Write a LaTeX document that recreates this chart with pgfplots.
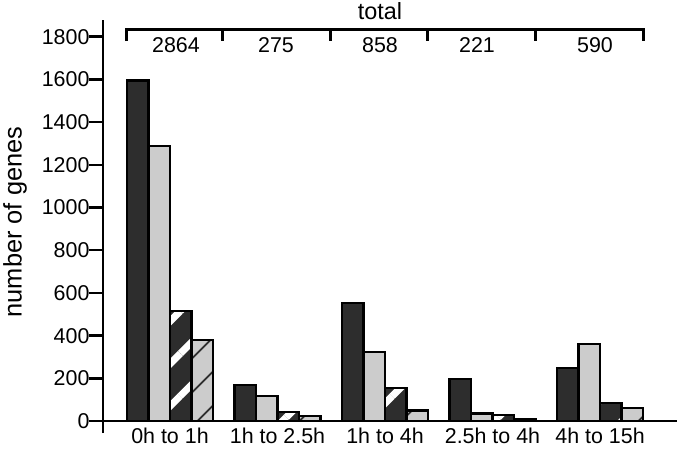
\documentclass[border=0pt]{standalone}
\usepackage{pgfplots}
\pgfplotsset{compat=1.18}
\usepackage{fontspec}
\setmainfont{Liberation Sans}
\usetikzlibrary{patterns.meta}
\definecolor{darkbar}{RGB}{45,45,45}
\definecolor{lightbar}{RGB}{204,204,204}
\begin{document}
\begin{tikzpicture}
\useasboundingbox (0,0) rectangle (680bp,-449bp);
\begin{axis}[
  at={(103bp,-433bp)}, anchor=south west,
  scale only axis, width=574bp, height=413bp,
  xmin=-0.623, xmax=4.716, ymin=-56, ymax=1878,
  axis x line*=middle, axis y line*=left,
  axis line style={line width=2.5bp, black},
  xtick={0,1,2,3,4},
  xticklabels={0h to 1h,1h to 2.5h,1h to 4h,2.5h to 4h,4h to 15h},
  x tick style={draw=none},
  ytick={0,200,...,1800},
  y tick style={line width=2.5bp, black},
  tick align=outside, major tick length=14bp,
  tick label style={font=\fontsize{21.5}{25}\selectfont},
  xticklabel style={yshift=11bp},
  yticklabel style={xshift=4bp},
  /pgf/number format/assume math mode=true,
  /pgf/number format/set thousands separator={},
  clip=false,
]
\addplot[ybar, bar width=0.2, bar shift=-0.3, fill=darkbar, draw=black, line width=2.2bp]
  coordinates {(0,1595) (1,168) (2,553) (3,197) (4,248)};
\addplot[ybar, bar width=0.2, bar shift=-0.1, fill=lightbar, draw=black, line width=2.2bp]
  coordinates {(0,1288) (1,119) (2,322) (3,35) (4,359)};
\addplot[ybar, bar width=0.2, bar shift=0.1, fill=darkbar, draw=black, line width=2.2bp,
  postaction={pattern={Lines[angle=45, distance=30bp, line width=7bp]}, pattern color=white}]
  coordinates {(0,515) (1,42) (2,153) (3,27) (4,83)};
\addplot[ybar, bar width=0.2, bar shift=0.3, fill=lightbar, draw=black, line width=2.2bp,
  postaction={pattern={Lines[angle=45, distance=24bp, line width=2bp]}, pattern color=darkbar}]
  coordinates {(0,379) (1,24) (2,49) (3,11) (4,60)};
\end{axis}
% y label
\node[rotate=90, font=\fontsize{25.5}{30}\selectfont] at (15bp,-222bp) {number of genes};
% bracket with totals
\draw[line width=3bp, black] (126bp,-41bp) -- (126bp,-29bp) -- (643bp,-29bp) -- (643bp,-41bp);
\foreach \xx in {222,330,427,535} {
  \draw[line width=3bp, black] (\xx bp,-29bp) -- (\xx bp,-41bp);
}
\node[anchor=base, font=\fontsize{23.5}{28}\selectfont, inner sep=0pt] at (380bp,-19bp) {total};
\foreach \xx/\tt in {176/2864,276/275,380/858,477/221,595/590} {
  \node[anchor=base, font=\fontsize{21.5}{25}\selectfont, inner sep=0pt] at (\xx bp,-52bp) {\tt};
}
\end{tikzpicture}
\end{document}
